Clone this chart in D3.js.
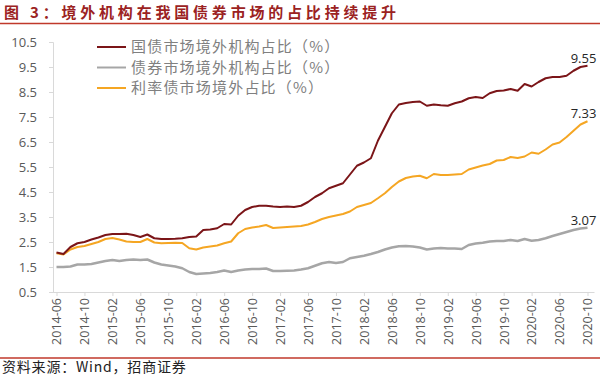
<!DOCTYPE html>
<html>
<head>
<meta charset="utf-8">
<script src="https://cdn.jsdelivr.net/npm/d3@7"></script>
<style>
	body { margin: 0; background: #fff; }
	svg { display: block; }
</style>
</head>
<body>
<script>
// monthly categories 2014-06 .. 2020-10
var months = d3.timeMonths(new Date(2014, 5, 1), new Date(2020, 10, 1)).map(d3.timeFormat("%Y-%m"));

var tickLabels = ["2014-06", "2014-10", "2015-02", "2015-06", "2015-10", "2016-02", "2016-06",
	"2016-10", "2017-02", "2017-06", "2017-10", "2018-02", "2018-06", "2018-10", "2019-02",
	"2019-06", "2019-10", "2020-02", "2020-06", "2020-10"];

var yTicks = [0.5, 1.5, 2.5, 3.5, 4.5, 5.5, 6.5, 7.5, 8.5, 9.5, 10.5];

var seriesNames = ["国债市场境外机构占比（%）", "债券市场境外机构占比（%）", "利率债市场境外占比（%）"];

var govBond = [2.08, 2.02, 2.3, 2.45, 2.5, 2.6, 2.68, 2.78, 2.82, 2.82, 2.83, 2.78, 2.7, 2.8, 2.65, 2.62,
	2.62, 2.63, 2.65, 2.7, 2.72, 2.98, 3.0, 3.05, 3.22, 3.2, 3.55, 3.78, 3.9, 3.95, 3.95, 3.92,
	3.9, 3.92, 3.9, 3.95, 4.1, 4.3, 4.45, 4.65, 4.75, 4.85, 5.2, 5.55, 5.68, 5.85, 6.55, 7.1,
	7.65, 8.0, 8.06, 8.1, 8.12, 7.95, 8.0, 7.97, 7.95, 8.05, 8.12, 8.25, 8.3, 8.26, 8.45, 8.54,
	8.56, 8.62, 8.55, 8.82, 8.72, 8.9, 9.05, 9.1, 9.1, 9.15, 9.35, 9.5, 9.55];

var allBond = [1.5, 1.5, 1.52, 1.6, 1.6, 1.62, 1.68, 1.74, 1.78, 1.74, 1.78, 1.8, 1.78, 1.8, 1.68, 1.6,
	1.56, 1.52, 1.45, 1.3, 1.22, 1.24, 1.26, 1.3, 1.36, 1.3, 1.36, 1.4, 1.42, 1.42, 1.44, 1.34,
	1.34, 1.35, 1.36, 1.4, 1.45, 1.55, 1.65, 1.7, 1.66, 1.7, 1.85, 1.9, 1.95, 2.02, 2.1, 2.2,
	2.28, 2.33, 2.34, 2.32, 2.28, 2.2, 2.24, 2.26, 2.24, 2.24, 2.22, 2.38, 2.44, 2.47, 2.52, 2.54,
	2.54, 2.58, 2.54, 2.62, 2.55, 2.58, 2.65, 2.74, 2.82, 2.9, 2.98, 3.04, 3.07];

var rateBond = [2.05, 2.0, 2.2, 2.3, 2.34, 2.42, 2.5, 2.62, 2.66, 2.6, 2.52, 2.5, 2.5, 2.62, 2.48, 2.45,
	2.46, 2.47, 2.46, 2.25, 2.2, 2.28, 2.32, 2.36, 2.45, 2.52, 2.85, 3.02, 3.08, 3.12, 3.18, 3.06,
	3.08, 3.1, 3.12, 3.14, 3.2, 3.3, 3.42, 3.5, 3.56, 3.62, 3.72, 3.9, 3.98, 4.06, 4.25, 4.45,
	4.7, 4.92, 5.06, 5.12, 5.15, 5.05, 5.22, 5.18, 5.18, 5.2, 5.22, 5.4, 5.48, 5.56, 5.62, 5.76,
	5.78, 5.9, 5.86, 5.92, 6.08, 6.03, 6.2, 6.4, 6.48, 6.7, 6.95, 7.2, 7.33];

var W = 600, H = 376;
var margin = {top: 42, right: 9, bottom: 84, left: 53},
	width = W - margin.left - margin.right,
	height = H - margin.top - margin.bottom;

var colors = ["#7B1518", "#A6A6A6", "#F5A623"];

var svg = d3.select("body")
	.append("svg")
	.attr("width", W)
	.attr("height", H);

// title + red rules
svg.append("text")
	.attr("x", 4)
	.attr("y", 18)
	.attr("fill", "#9B2222")
	.attr("font-family", "Noto Sans CJK SC")
	.attr("font-weight", "bold")
	.attr("font-size", 15)
	.attr("letter-spacing", 3.8)
	.text("图 3：境外机构在我国债券市场的占比持续提升");

svg.append("line")
	.attr("x1", 0).attr("x2", W)
	.attr("y1", 23.5).attr("y2", 23.5)
	.attr("stroke", "#C0392B")
	.attr("stroke-width", 1.5);

svg.append("line")
	.attr("x1", 0).attr("x2", W)
	.attr("y1", 358).attr("y2", 358)
	.attr("stroke", "#C0392B")
	.attr("stroke-width", 1.5);

svg.append("text")
	.attr("x", 2)
	.attr("y", 372)
	.attr("fill", "#222")
	.attr("font-family", "Noto Sans CJK SC")
	.attr("font-size", 14)
	.attr("letter-spacing", 0.8)
	.text("资料来源：Wind，招商证券");

var main = svg.append("g")
	.attr("transform", "translate(" + margin.left + "," + margin.top + ")");

var x = d3.scalePoint()
	.domain(months)
	.range([3.5, width - 3.5]);

var y = d3.scaleLinear()
	.domain([0.5, 10.5])
	.range([height, 0]);

// y axis
var yAxis = d3.axisLeft(y)
	.tickValues(yTicks)
	.tickFormat(d3.format(".1f"))
	.tickSize(4)
	.tickPadding(12);

var gy = main.append("g").call(yAxis);
gy.select(".domain").attr("stroke", "#D9D9D9");
gy.selectAll(".tick line").attr("stroke", "#D9D9D9");
gy.selectAll(".tick text")
	.attr("fill", "#595959")
	.attr("font-family", "Open Sans")
	.attr("font-size", 13);

// x axis
var xAxis = d3.axisBottom(x)
	.tickValues(tickLabels)
	.tickSize(4)
	.tickSizeOuter(0);

var gx = main.append("g")
	.attr("transform", "translate(0," + height + ")")
	.call(xAxis);
gx.select(".domain").attr("stroke", "#D9D9D9").attr("d", "M-3.5,0.5H" + (width + 3.5));
gx.selectAll(".tick line").attr("stroke", "#D9D9D9");
gx.selectAll(".tick text")
	.attr("fill", "#595959")
	.attr("font-family", "Open Sans")
	.attr("font-size", 12.5)
	.attr("transform", "rotate(-90)")
	.attr("text-anchor", "end")
	.attr("dx", -6)
	.attr("dy", "0.35em")
	.attr("y", 0);

// lines
var series = [govBond, allBond, rateBond];
var widths = [2, 2.5, 2];

var line = d3.line()
	.x(function(d, i) { return x(months[i]); })
	.y(function(d) { return y(d); });

var order = [1, 2, 0];
order.forEach(function(k) {
	main.append("path")
		.datum(series[k])
		.attr("fill", "none")
		.attr("stroke", colors[k])
		.attr("stroke-width", widths[k])
		.attr("stroke-linejoin", "round")
		.attr("d", line);
});

// end labels
series.forEach(function(s) {
	var last = s.length - 1;
	main.append("text")
		.attr("x", x(months[last]) - 4)
		.attr("y", y(s[last]) - 3)
		.attr("text-anchor", "middle")
		.attr("fill", "#262626")
		.attr("font-family", "Open Sans")
		.attr("font-size", 13)
		.text(s[last].toFixed(2));
});

// legend
var legend = svg.append("g");
seriesNames.forEach(function(name, i) {
	var ly = 47 + i * 20.5;
	legend.append("line")
		.attr("x1", 97).attr("x2", 126)
		.attr("y1", ly).attr("y2", ly)
		.attr("stroke", colors[i])
		.attr("stroke-width", 2);
	legend.append("text")
		.attr("x", 131)
		.attr("y", ly)
		.attr("dy", "0.35em")
		.attr("fill", "#808080")
		.attr("font-family", "Noto Sans CJK SC")
		.attr("font-size", 15)
		.attr("letter-spacing", 1.2)
		.text(name);
});
</script>
</body>
</html>
